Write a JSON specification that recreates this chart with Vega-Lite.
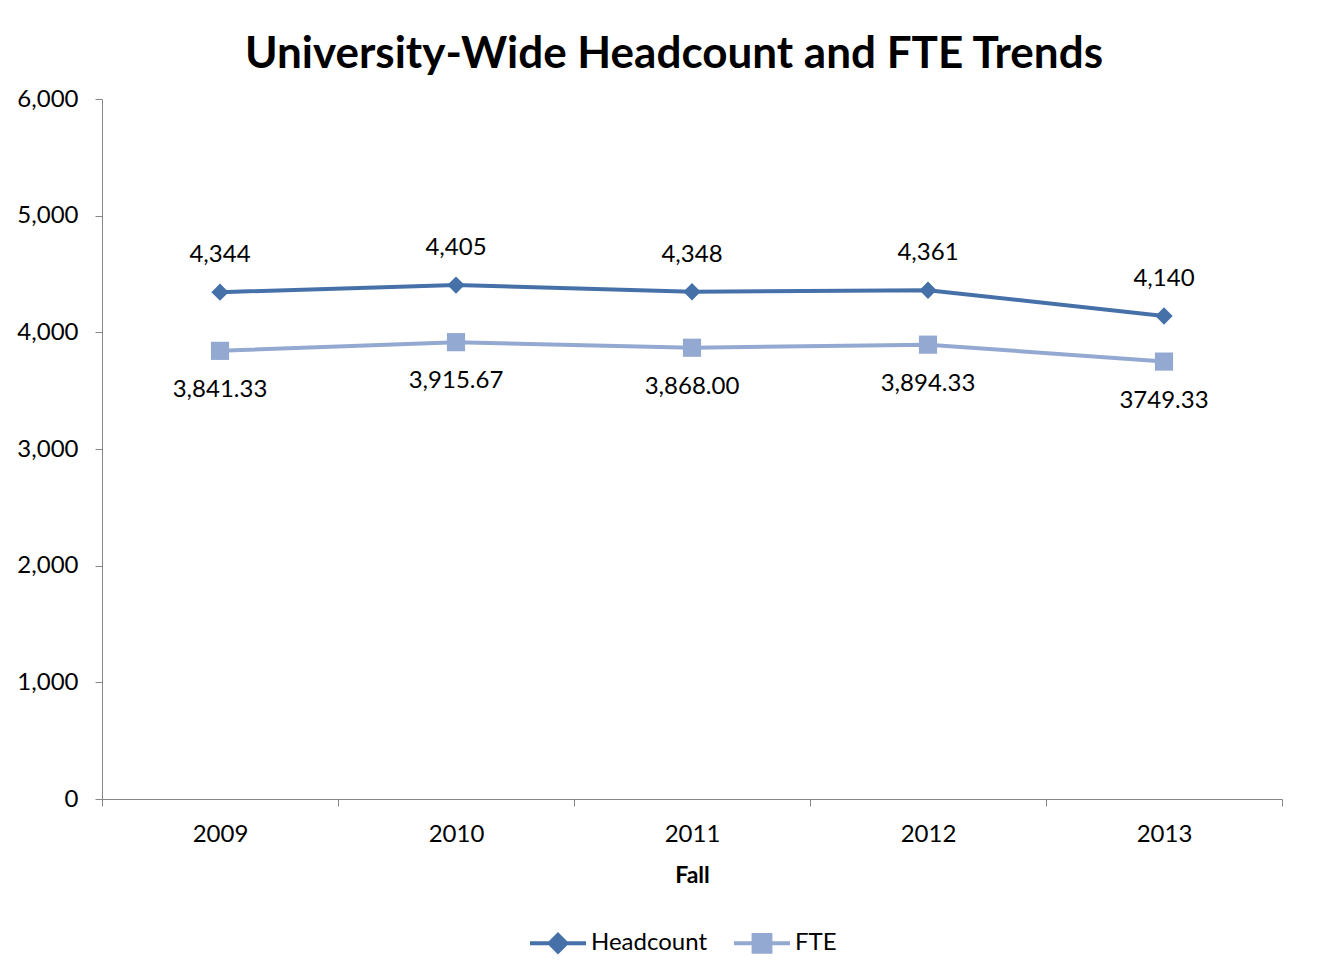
{
  "$schema": "https://vega.github.io/schema/vega-lite/v6.json",
  "autosize": "none",
  "width": 1180,
  "height": 700,
  "padding": {"left": 102, "top": 99, "right": 49, "bottom": 180},
  "background": "white",
  "title": {
    "text": "University-Wide Headcount and FTE Trends",
    "font": "Lato",
    "fontSize": 44,
    "fontWeight": "bold",
    "color": "black",
    "anchor": "middle",
    "dx": -18,
    "offset": 10
  },
  "data": {
    "values": [
      {"year": "2009", "series": "Headcount", "value": 4344, "label": "4,344"},
      {"year": "2010", "series": "Headcount", "value": 4405, "label": "4,405"},
      {"year": "2011", "series": "Headcount", "value": 4348, "label": "4,348"},
      {"year": "2012", "series": "Headcount", "value": 4361, "label": "4,361"},
      {"year": "2013", "series": "Headcount", "value": 4140, "label": "4,140"},
      {"year": "2009", "series": "FTE", "value": 3841.33, "label": "3,841.33"},
      {"year": "2010", "series": "FTE", "value": 3915.67, "label": "3,915.67"},
      {"year": "2011", "series": "FTE", "value": 3868.00, "label": "3,868.00"},
      {"year": "2012", "series": "FTE", "value": 3894.33, "label": "3,894.33"},
      {"year": "2013", "series": "FTE", "value": 3749.33, "label": "3749.33"}
    ]
  },
  "encoding": {
    "x": {
      "field": "year", "type": "ordinal", "title": "Fall",
      "scale": {"paddingInner": 0, "paddingOuter": 0},
      "axis": {
        "labelAngle": 0, "tickBand": "extent", "tickSize": 7,
        "domainColor": "#868686", "tickColor": "#868686",
        "labelFont": "Lato", "labelFontSize": 24, "labelColor": "black",
        "labelPadding": 16,
        "titleFont": "Lato", "titleFontSize": 23, "titleFontWeight": "bold",
        "titleColor": "black", "titlePadding": 18, "grid": false
      }
    },
    "y": {
      "field": "value", "type": "quantitative", "title": null,
      "scale": {"domain": [0, 6000], "nice": false},
      "axis": {
        "values": [0, 1000, 2000, 3000, 4000, 5000, 6000],
        "format": ",d", "grid": false, "tickSize": 7,
        "domainColor": "#868686", "tickColor": "#868686",
        "labelFont": "Lato", "labelFontSize": 24, "labelColor": "black",
        "labelPadding": 17
      }
    }
  },
  "layer": [
    {
      "mark": {"type": "line", "strokeWidth": 4},
      "encoding": {
        "color": {
          "field": "series", "type": "nominal",
          "scale": {"domain": ["Headcount", "FTE"], "range": ["#4571A8", "#93A9D1"]},
          "legend": {
            "title": null, "orient": "none", "direction": "horizontal",
            "legendX": 426, "legendY": 814, "padding": 0,
            "symbolSize": 3136, "symbolStrokeWidth": 4,
            "symbolOpacity": 1,
            "labelFont": "Lato", "labelFontSize": 24, "labelColor": "black",
            "labelOffset": 3, "columnPadding": 18,
            "encode": {
              "symbols": {
                "update": {
                  "fill": {"scale": "color", "field": "value"},
                  "stroke": {"scale": "color", "field": "value"},
                  "strokeWidth": {"value": 4},
                  "opacity": {"value": 1}
                }
              }
            }
          }
        }
      }
    },
    {
      "transform": [{"filter": "datum.series === 'Headcount'"}],
      "mark": {"type": "point", "shape": "diamond", "filled": true, "size": 300, "opacity": 1, "color": "#4571A8"}
    },
    {
      "transform": [{"filter": "datum.series === 'FTE'"}],
      "mark": {"type": "point", "shape": "square", "filled": true, "size": 330, "opacity": 1, "color": "#93A9D1"}
    },
    {
      "mark": {"type": "point", "filled": true, "opacity": 0},
      "encoding": {
        "color": {"field": "series", "type": "nominal"},
        "shape": {
          "field": "series", "type": "nominal",
          "scale": {
            "domain": ["Headcount", "FTE"],
            "range": ["M-1,0H1M0,-0.3L0.3,0L0,0.3L-0.3,0Z", "M-1,0H1M-0.3,-0.3H0.3V0.3H-0.3Z"]
          },
          "legend": {
            "title": null, "orient": "none", "direction": "horizontal",
            "legendX": 426, "legendY": 814, "padding": 0,
            "symbolSize": 3136, "symbolStrokeWidth": 4,
            "symbolOpacity": 1,
            "labelFont": "Lato", "labelFontSize": 24, "labelColor": "black",
            "labelOffset": 3, "columnPadding": 18,
            "encode": {
              "symbols": {
                "update": {
                  "fill": {"scale": "color", "field": "value"},
                  "stroke": {"scale": "color", "field": "value"},
                  "strokeWidth": {"value": 4},
                  "opacity": {"value": 1}
                }
              }
            }
          }
        }
      }
    },
    {
      "transform": [{"filter": "datum.series === 'Headcount'"}],
      "mark": {"type": "text", "dy": -37, "font": "Lato", "fontSize": 24, "color": "black"},
      "encoding": {"text": {"field": "label", "type": "nominal"}}
    },
    {
      "transform": [{"filter": "datum.series === 'FTE'"}],
      "mark": {"type": "text", "dy": 39, "font": "Lato", "fontSize": 24, "color": "black"},
      "encoding": {"text": {"field": "label", "type": "nominal"}}
    }
  ],
  "config": {"view": {"stroke": null}}
}
